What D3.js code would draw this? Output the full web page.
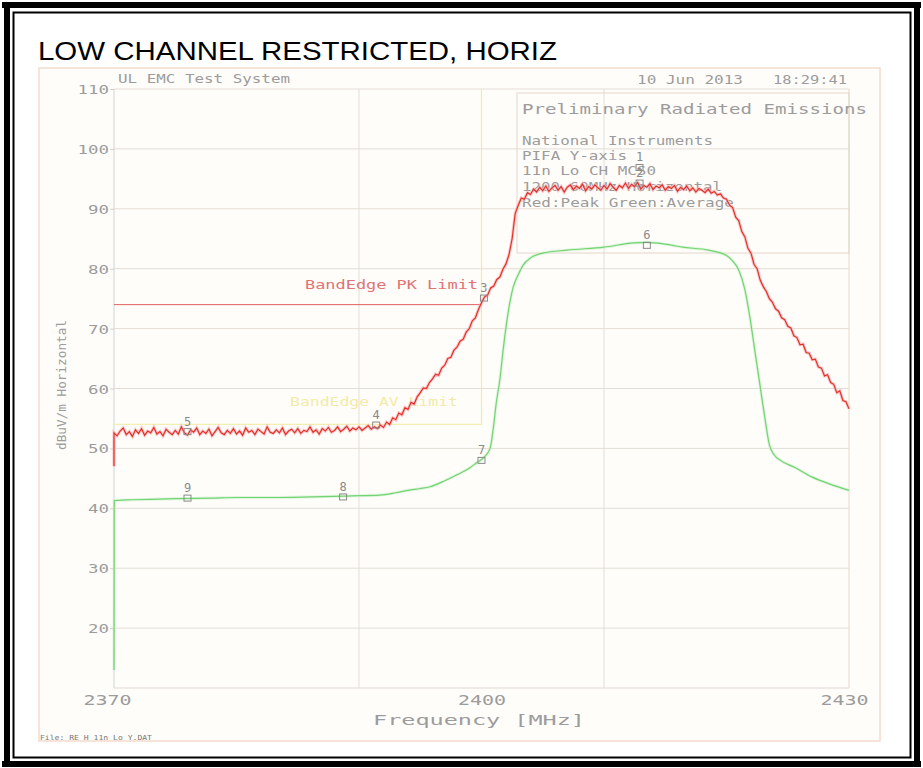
<!DOCTYPE html>
<html>
<head>
<meta charset="utf-8">
<script src="https://cdn.jsdelivr.net/npm/d3@7"></script>
<style>
html,body{margin:0;padding:0;background:#fff;}
svg{display:block;}
</style>
</head>
<body>
<svg id="chart" width="923" height="768"></svg>
<script>
// ---------------- DATA ----------------
const titleText = "LOW CHANNEL RESTRICTED, HORIZ";
const xTickValues = [2370, 2400, 2430];
const xGridValues = [2390, 2410];
const yTickValues = [20, 30, 40, 50, 60, 70, 80, 90, 100, 110];

// Peak trace (red) – frequency (MHz), 0.25 MHz sweep points
const peakFreq = [2370,
  2370.00,2370.25,2370.50,2370.75,2371.00,2371.25,2371.50,2371.75,2372.00,2372.25,2372.50,2372.75,2373.00,2373.25,2373.50,2373.75,2374.00,2374.25,2374.50,2374.75,
  2375.00,2375.25,2375.50,2375.75,2376.00,2376.25,2376.50,2376.75,2377.00,2377.25,2377.50,2377.75,2378.00,2378.25,2378.50,2378.75,2379.00,2379.25,2379.50,2379.75,
  2380.00,2380.25,2380.50,2380.75,2381.00,2381.25,2381.50,2381.75,2382.00,2382.25,2382.50,2382.75,2383.00,2383.25,2383.50,2383.75,2384.00,2384.25,2384.50,2384.75,
  2385.00,2385.25,2385.50,2385.75,2386.00,2386.25,2386.50,2386.75,2387.00,2387.25,2387.50,2387.75,2388.00,2388.25,2388.50,2388.75,2389.00,2389.25,2389.50,2389.75,
  2390.00,2390.25,2390.50,2390.75,2391.00,2391.25,2391.50,2391.75,2392.00,2392.25,2392.50,2392.75,2393.00,2393.25,2393.50,2393.75,2394.00,2394.25,2394.50,2394.75,
  2395.00,2395.25,2395.50,2395.75,2396.00,2396.25,2396.50,2396.75,2397.00,2397.25,2397.50,2397.75,2398.00,2398.25,2398.50,2398.75,2399.00,2399.25,2399.50,2399.75,
  2400.00,2400.25,2400.50,2400.75,2401.00,2401.25,2401.50,2401.75,2402.00,2402.25,2402.50,2402.75,2403.00,2403.25,2403.50,2403.75,2404.00,2404.25,2404.50,2404.75,
  2405.00,2405.25,2405.50,2405.75,2406.00,2406.25,2406.50,2406.75,2407.00,2407.25,2407.50,2407.75,2408.00,2408.25,2408.50,2408.75,2409.00,2409.25,2409.50,2409.75,
  2410.00,2410.25,2410.50,2410.75,2411.00,2411.25,2411.50,2411.75,2412.00,2412.25,2412.50,2412.75,2413.00,2413.25,2413.50,2413.75,2414.00,2414.25,2414.50,2414.75,
  2415.00,2415.25,2415.50,2415.75,2416.00,2416.25,2416.50,2416.75,2417.00,2417.25,2417.50,2417.75,2418.00,2418.25,2418.50,2418.75,2419.00,2419.25,2419.50,2419.75,
  2420.00,2420.25,2420.50,2420.75,2421.00,2421.25,2421.50,2421.75,2422.00,2422.25,2422.50,2422.75,2423.00,2423.25,2423.50,2423.75,2424.00,2424.25,2424.50,2424.75,
  2425.00,2425.25,2425.50,2425.75,2426.00,2426.25,2426.50,2426.75,2427.00,2427.25,2427.50,2427.75,2428.00,2428.25,2428.50,2428.75,2429.00,2429.25,2429.50,2429.75,
  2430.00];
// Peak level (dBuV/m)
const peakLevel = [47.0,
  52.6,52.1,52.9,53.4,52.3,52.8,52.0,53.1,52.5,53.3,52.2,52.9,52.6,53.5,52.4,52.8,52.1,53.2,52.7,52.3,
  53.0,52.4,53.6,52.6,52.2,53.1,52.7,53.4,52.3,52.9,52.5,53.2,52.1,52.8,53.5,52.6,52.3,53.0,52.5,53.3,
  52.4,52.9,52.2,53.4,52.7,53.0,52.3,53.2,52.8,52.4,53.6,52.7,52.5,53.1,52.6,53.4,52.3,52.9,53.2,52.6,
  53.3,52.5,53.0,52.8,53.6,52.7,53.1,52.4,53.3,52.9,53.5,52.7,53.0,53.6,52.8,53.2,53.7,52.9,53.4,53.1,
  53.6,53.0,53.4,53.8,53.2,53.6,53.3,53.9,53.5,54.4,54.0,55.1,54.8,55.9,55.6,56.8,56.5,57.7,57.4,58.6,
  59.3,60.1,60.0,61.0,61.6,62.4,62.2,63.4,63.9,65.0,65.2,66.4,66.9,67.9,68.2,69.4,70.0,71.3,71.8,73.2,
  74.3,75.3,75.6,76.8,77.1,78.2,78.6,79.9,80.8,82.4,85.0,89.2,90.6,91.8,91.6,92.7,92.4,93.3,92.8,93.6,
  93.0,93.8,92.9,93.5,93.9,93.1,93.7,92.8,93.6,94.0,93.2,93.8,93.4,94.1,93.0,93.7,93.3,94.0,93.5,93.1,
  93.9,93.3,94.2,93.6,93.1,93.9,93.5,94.3,93.4,94.1,93.7,94.4,93.3,93.9,93.6,94.2,93.2,93.8,93.5,94.0,
  93.1,93.7,93.4,93.9,92.9,93.6,93.2,93.8,93.0,93.5,92.8,93.4,93.1,92.7,93.3,92.6,92.9,92.3,92.5,91.8,
  91.6,90.6,90.2,88.6,88.0,86.2,85.3,83.4,82.6,80.7,80.0,78.1,77.0,76.2,75.0,74.4,73.3,72.9,71.8,71.5,
  70.4,70.1,68.8,68.5,67.3,67.4,66.0,65.9,64.8,64.9,63.6,63.4,62.1,62.3,61.0,60.7,59.3,59.6,58.0,57.8,
  56.6];

// Average trace (green)
const avgFreq = [2370.0,2370.02,2371,2373,2375,2378,2380,2383,2386,2388,2390,2391.7,2393,2394,2395,2395.8,2397,2398,2399,2399.6,
  2400.2,2400.7,2401.0,2401.2,2401.5,2401.8,2402.2,2402.6,2403.0,2403.4,2404.0,2405,2407,2410,2412.4,2413.5,2415,2416.4,2418.5,
  2420.0,2420.5,2421.0,2421.5,2421.9,2422.3,2422.7,2423.1,2423.5,2423.9,2424.4,2425.5,2427,2428.5,2430];
const avgLevel = [13.0,41.3,41.4,41.5,41.6,41.7,41.8,41.8,41.9,42.0,42.1,42.2,42.6,43.0,43.3,43.6,44.6,45.6,46.7,47.6,
  48.5,50.0,54.0,57.5,61.5,67.0,73.0,77.0,79.0,80.6,81.8,82.6,83.1,83.6,84.3,84.4,84.1,83.6,83.1,
  82.2,81.3,79.8,76.5,72.0,66.5,61.0,55.5,50.6,48.9,48.0,46.9,45.2,44.0,43.0];

// Limits
const pkLimit = {label: "BandEdge PK Limit", level: 74, from: 2370, to: 2400};
const avLimit = {label: "BandEdge AV Limit", level: 54, from: 2370, to: 2400};

// Markers
const markerLabels = ["1","2","3","4","5","6","7","8","9"];
const markerFreq   = [2412.9,2412.9,2400.2,2391.4,2376.0,2413.5,2400.0,2388.7,2376.0];
const markerLevel  = [96.9,94.3,75.1,53.9,52.8,83.9,48.0,41.9,41.7];

// Header / legend texts
const headerLeft = "UL EMC Test System";
const headerDate = "10 Jun 2013";
const headerTime = "18:29:41";
const legendTitle = "Preliminary Radiated Emissions";
const legendLines = ["National Instruments","PIFA Y-axis","11n Lo CH MCS0","1200 60MHz Horizontal","Red:Peak Green:Average"];
const xAxisTitle = "Frequency [MHz]";
const yAxisTitle = "dBuV/m Horizontal";
const fileText = "File: RE H 11n Lo Y.DAT";

// ---------------- DRAW ----------------
const svg = d3.select("#chart");
const mono = "'DejaVu Sans Mono', 'Liberation Mono', monospace";
const grayTxt = "#9c9c9c";

const x = d3.scaleLinear().domain([2370, 2430]).range([114, 849]);
const y = d3.scaleLinear().domain([10, 110]).range([688, 89]);

// outer black borders
svg.append("rect").attr("x",0).attr("y",0).attr("width",923).attr("height",768).attr("fill","#fff");
const blk = "#000";
svg.append("rect").attr("x",2).attr("y",2).attr("width",919).attr("height",6).attr("fill",blk);
svg.append("rect").attr("x",2).attr("y",761).attr("width",919).attr("height",6).attr("fill",blk);
svg.append("rect").attr("x",4).attr("y",2).attr("width",6).attr("height",765).attr("fill",blk);
svg.append("rect").attr("x",914).attr("y",2).attr("width",6).attr("height",765).attr("fill",blk);
svg.append("rect").attr("x",13.5).attr("y",12.5).attr("width",897).attr("height",745)
  .attr("fill","none").attr("stroke",blk).attr("stroke-width",2);

// title
svg.append("text").attr("x",38).attr("y",60).attr("font-family","'Liberation Sans', Arial, sans-serif")
  .attr("font-size",25).attr("fill","#000").attr("textLength",519).attr("lengthAdjust","spacingAndGlyphs")
  .text(titleText);

// screenshot panel
svg.append("rect").attr("x",39).attr("y",68).attr("width",841).attr("height",673)
  .attr("fill","#fffdfa").attr("stroke","#f3dccb").attr("stroke-width",1.5);

const g = svg.append("g");

function ptxt(str, px, py, size, len, color, anchor){
  const t = g.append("text").attr("x",px).attr("y",py).attr("font-family",mono)
    .attr("font-size",size).attr("fill",color||grayTxt).attr("text-anchor",anchor||"start")
    .text(str);
  if (len) t.attr("textLength",len).attr("lengthAdjust","spacingAndGlyphs");
  return t;
}

// gridlines
const gridCol = "#e4ddd6";
g.selectAll(".hg").data(yTickValues).enter().append("line")
  .attr("x1",x(2370)).attr("x2",x(2430)).attr("y1",d=>y(d)).attr("y2",d=>y(d))
  .attr("stroke",gridCol).attr("stroke-width",1);
g.selectAll(".vg").data(xGridValues).enter().append("line")
  .attr("x1",d=>x(d)).attr("x2",d=>x(d)).attr("y1",y(110)).attr("y2",y(10))
  .attr("stroke",gridCol).attr("stroke-width",1);

// axes frame
g.append("line").attr("x1",x(2370)).attr("x2",x(2370)).attr("y1",y(110)).attr("y2",y(10)).attr("stroke","#cfd3d6");
g.append("line").attr("x1",x(2430)).attr("x2",x(2430)).attr("y1",y(110)).attr("y2",y(10)).attr("stroke","#e6d8cc");
g.append("line").attr("x1",x(2370)).attr("x2",x(2430)).attr("y1",y(10)).attr("y2",y(10)).attr("stroke","#e0d8d2");

// y axis
const yAxis = d3.axisLeft(y).tickValues(yTickValues).tickSize(4).tickFormat(d3.format("d"));
const yg = g.append("g").attr("transform",`translate(${x(2370)},0)`).call(yAxis);
yg.select(".domain").remove();
yg.selectAll(".tick line").attr("stroke","#d8d0c8");
yg.selectAll(".tick text").attr("font-family",mono).attr("font-size",13).attr("fill",grayTxt)
  .attr("x",-5).attr("dy","0.35em")
  .attr("textLength",d=>String(d).length*10.5).attr("lengthAdjust","spacingAndGlyphs");

// x axis
const xAxis = d3.axisBottom(x).tickValues(xTickValues).tickSize(0).tickFormat(d3.format("d"));
const xg = g.append("g").attr("transform",`translate(0,${y(10)})`).call(xAxis);
xg.select(".domain").remove();
xg.selectAll(".tick text").attr("font-family",mono).attr("font-size",14).attr("fill",grayTxt)
  .attr("y",17).attr("dy","0")
  .attr("textLength",48).attr("lengthAdjust","spacingAndGlyphs");
xg.selectAll(".tick").filter(d=>d===2370).select("text").attr("dx",-7);
xg.selectAll(".tick").filter(d=>d===2430).select("text").attr("dx",-5);

// axis titles
ptxt(xAxisTitle, 479, 725, 14, 212, grayTxt, "middle");
g.append("text").attr("transform","translate(66,385) rotate(-90)").attr("font-family",mono)
  .attr("font-size",12).attr("fill",grayTxt).attr("text-anchor","middle")
  .attr("textLength",130).attr("lengthAdjust","spacingAndGlyphs").text(yAxisTitle);

// header
ptxt(headerLeft, 118, 83, 12, 172);
ptxt(headerDate, 637, 84, 13, 106);
ptxt(headerTime, 773, 84, 13, 74);
ptxt(fileText, 40, 740, 7, 112, "#777");

// legend box
g.append("rect").attr("x",517).attr("y",93).attr("width",x(2430)-517).attr("height",160)
  .attr("fill","none").attr("stroke","#e3d6ca").attr("stroke-width",1);
ptxt(legendTitle, 522, 114, 14, 345);
const lBase = [145,160,175,191,207];
const lLen = [191,105,134,200,212];
legendLines.forEach((s,i)=>ptxt(s, 522, lBase[i], 11.5, lLen[i]));

// limit lines
g.append("line").attr("x1",x(avLimit.from)).attr("x2",x(avLimit.to))
  .attr("y1",y(avLimit.level)).attr("y2",y(avLimit.level)).attr("stroke","#f4eeb4").attr("stroke-width",1.2);
g.append("line").attr("x1",x(avLimit.to)).attr("x2",x(avLimit.to))
  .attr("y1",y(110)).attr("y2",y(avLimit.level)).attr("stroke","#f2ea9c").attr("stroke-width",1.2);
g.append("line").attr("x1",x(pkLimit.from)).attr("x2",x(pkLimit.to))
  .attr("y1",y(pkLimit.level)).attr("y2",y(pkLimit.level)).attr("stroke","#e06060").attr("stroke-width",1);
ptxt(pkLimit.label, 305, 289, 12, 173, "#e07474");
ptxt(avLimit.label, 290, 406, 12, 168, "#f2eba8");

// traces
const avgData = avgFreq.map((f,i)=>[f,avgLevel[i]]);
const peakData = peakFreq.map((f,i)=>[f,peakLevel[i]]);
const lineG = d3.line().x(d=>x(d[0])).y(d=>y(d[1])).curve(d3.curveMonotoneX);
const lineR = d3.line().x(d=>x(d[0])).y(d=>y(d[1]));

g.append("path").attr("d",lineG(avgData)).attr("fill","none").attr("stroke","#c8f0c8").attr("stroke-width",3).attr("opacity",0.6);
g.append("path").attr("d",lineG(avgData)).attr("fill","none").attr("stroke","#74d474").attr("stroke-width",1.2);

g.append("path").attr("d",lineR(peakData)).attr("fill","none").attr("stroke","#f7b3b3").attr("stroke-width",3.2).attr("opacity",0.7);
g.append("path").attr("d",lineR(peakData)).attr("fill","none").attr("stroke","#e4302c").attr("stroke-width",1.2);

// markers
const mk = g.selectAll(".mk").data(markerLabels.map((l,i)=>({l, f:markerFreq[i], v:markerLevel[i]})))
  .enter().append("g").attr("transform",d=>`translate(${x(d.f)},${y(d.v)})`);
mk.append("rect").attr("x",-3.5).attr("y",-3).attr("width",7).attr("height",6)
  .attr("fill","none").attr("stroke","#8a8a8a").attr("stroke-width",1);
mk.append("text").attr("x",0).attr("y",-6).attr("text-anchor","middle").attr("font-family",mono)
  .attr("font-size",12).attr("fill","#8a8a8a").text(d=>d.l);
</script>
</body>
</html>
